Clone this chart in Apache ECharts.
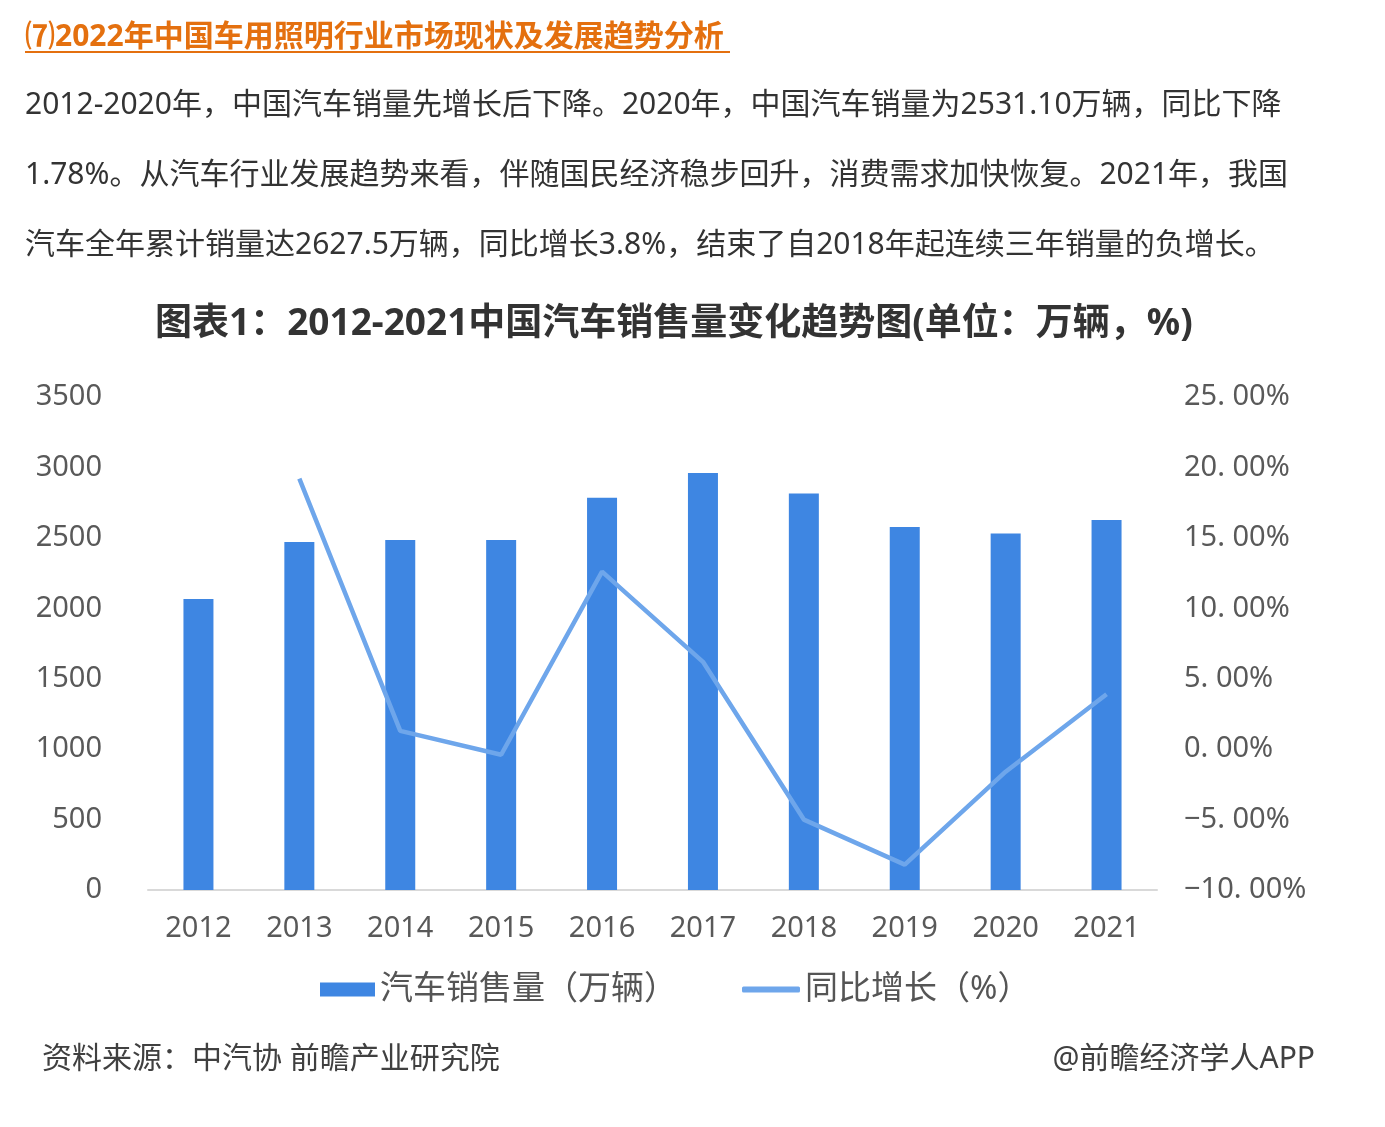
<!DOCTYPE html>
<html>
<head>
  <meta charset="UTF-8">
  <script src="https://cdn.jsdelivr.net/npm/echarts@6/dist/echarts.min.js"></script>
  <style>
    html, body { margin: 0; padding: 0; background: #fff; }
    #chart { width: 1385px; height: 1127px; }
  </style>
</head>
<body>
<div id="chart"></div>
<script>
  var years = ['2012', '2013', '2014', '2015', '2016', '2017', '2018', '2019', '2020', '2021'];
  var sales = [2066, 2470, 2485, 2485, 2785, 2960, 2815, 2577, 2531.1, 2627.5];
  var growth = [null, 19.2, 1.3, -0.4, 12.6, 6.2, -5.0, -8.2, -1.6, 3.9];
  var paragraph = [
    '2012-2020年，中国汽车销量先增长后下降。2020年，中国汽车销量为2531.10万辆，同比下降',
    '1.78%。从汽车行业发展趋势来看，伴随国民经济稳步回升，消费需求加快恢复。2021年，我国',
    '汽车全年累计销量达2627.5万辆，同比增长3.8%，结束了自2018年起连续三年销量的负增长。'
  ];

  var font = '"Noto Sans", "Noto Sans CJK SC", sans-serif';
  var orange = '#E4700F';

  var texts = paragraph.map(function (line, i) {
    return {
      type: 'text', left: 25, top: 90 + i * 70,
      style: { text: line, font: '30px ' + font, fill: '#333' }
    };
  });

  var chart = echarts.init(document.getElementById('chart'));
  chart.setOption({
    backgroundColor: '#fff',
    textStyle: { fontFamily: font },
    title: {
      text: '图表1：2012-2021中国汽车销售量变化趋势图(单位：万辆，%)',
      left: 150, top: 301,
      textStyle: { fontSize: 37, fontWeight: 'bold', color: '#333', fontFamily: font }
    },
    graphic: [
      { type: 'text', left: 25, top: 22,
        style: { text: '⑺2022年中国车用照明行业市场现状及发展趋势分析', font: 'bold 30px ' + font, fill: orange } },
      { type: 'rect', left: 25, top: 51, shape: { width: 705, height: 2 }, style: { fill: orange } },
      { type: 'text', left: 42, top: 1044,
        style: { text: '资料来源：中汽协 前瞻产业研究院', font: '30px ' + font, fill: '#404040' } },
      { type: 'text', right: 70, top: 1044,
        style: { text: '@前瞻经济学人APP', font: '30px ' + font, fill: '#404040' } }
    ].concat(texts),
    legend: [{
      left: 315, top: 968,
      itemWidth: 55, itemHeight: 14,
      data: [{ name: '汽车销售量（万辆）', icon: 'rect' }],
      textStyle: { fontSize: 33, color: '#555' }
    }, {
      left: 737, top: 968,
      itemWidth: 58, itemHeight: 6,
      data: [{ name: '同比增长（%）', icon: 'roundRect' }],
      textStyle: { fontSize: 33, color: '#555' }
    }],
    grid: { left: 148, right: 228, top: 397, bottom: 237 },
    xAxis: {
      type: 'category',
      data: years,
      axisTick: { show: false },
      axisLine: { lineStyle: { color: '#d9d9d9', width: 2 } },
      axisLabel: { fontSize: 29, color: '#595959', margin: 24 }
    },
    yAxis: [{
      type: 'value', min: 0, max: 3500, interval: 500,
      splitLine: { show: false },
      axisLine: { show: false },
      axisLabel: {
        fontSize: 29, color: '#595959', margin: 46,
        formatter: function (v) { return String(v); }
      }
    }, {
      type: 'value', min: -10, max: 25, interval: 5,
      splitLine: { show: false },
      axisLine: { show: false },
      axisLabel: {
        fontSize: 29, color: '#595959', margin: 27,
        formatter: function (v) {
          var s = v.toFixed(2).replace('.', '. ');
          return s.replace('-', '−') + '%';
        }
      }
    }],
    series: [{
      name: '汽车销售量（万辆）',
      type: 'bar',
      data: sales,
      barWidth: 30,
      itemStyle: { color: '#3E86E2' }
    }, {
      name: '同比增长（%）',
      type: 'line',
      yAxisIndex: 1,
      data: growth,
      symbol: 'none',
      lineStyle: { color: '#6EA6EB', width: 4.5 },
      itemStyle: { color: '#6EA6EB' }
    }]
  });
</script>
</body>
</html>
